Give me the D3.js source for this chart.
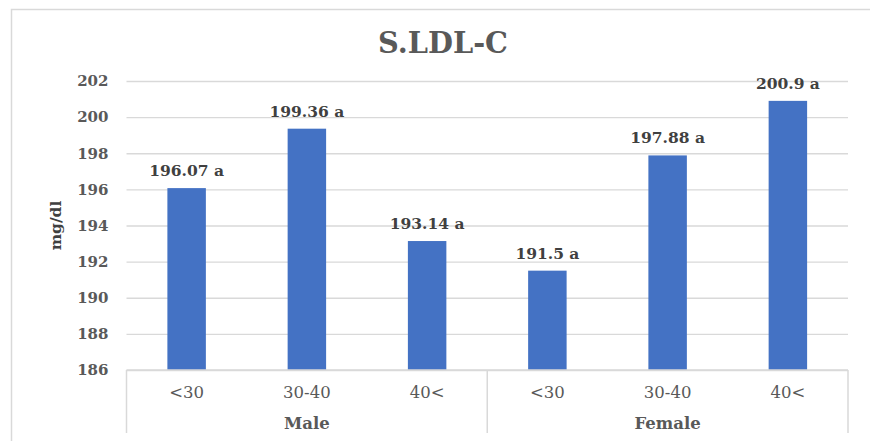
<!DOCTYPE html>
<html>
<head>
<meta charset="utf-8">
<script src="https://cdn.jsdelivr.net/npm/d3@7/dist/d3.min.js"></script>
<style>
  html, body { margin: 0; padding: 0; background: #fff; }
  svg { display: block; }
</style>
</head>
<body>
<svg id="chart" width="870" height="441"></svg>
<script>
// Age bands within each sex group
const groups = ["Male", "Female"];
const ageBands = ["<30", "30-40", "40<"];
// Mean serum LDL-C (mg/dl) in order: Male <30, 30-40, 40<, Female <30, 30-40, 40<
const values = [196.07, 199.36, 193.14, 191.5, 197.88, 200.9];
const letters = ["a", "a", "a", "a", "a", "a"];
const yTicks = [186, 188, 190, 192, 194, 196, 198, 200, 202];

const FONT = "'DejaVu Serif', 'Liberation Serif', serif";
const svg = d3.select("#chart").attr("font-family", FONT);
const W = 870, H = 441;
const margin = { left: 126.5, right: 22, top: 81, bottom: 71 };
const plotW = W - margin.left - margin.right;
const plotH = H - margin.top - margin.bottom;

// one slot per (group, age band) bar
const slots = [];
groups.forEach(g => ageBands.forEach(a => slots.push(g + "|" + a)));

const x = d3.scaleBand().domain(slots).range([margin.left, margin.left + plotW]).paddingInner(0.68).paddingOuter(0.34);
const y = d3.scaleLinear().domain([186, 202]).range([margin.top + plotH, margin.top]);

const grey = "#d9d9d9";

// outer chart frame
svg.append("rect")
  .attr("x", 11.5).attr("y", 9.5).attr("width", 880).attr("height", 460)
  .attr("fill", "#fff").attr("stroke", grey).attr("stroke-width", 1.5);

// title
svg.append("text")
  .attr("x", 443).attr("y", 53)
  .attr("text-anchor", "middle")
  .attr("font-family", FONT)
  .attr("font-size", 29).attr("font-weight", "bold").attr("fill", "#595959")
  .attr("textLength", 130).attr("lengthAdjust", "spacingAndGlyphs")
  .text("S.LDL-C");

// horizontal gridlines with y axis labels
const yAxis = d3.axisLeft(y).tickValues(yTicks).tickSize(-plotW).tickPadding(18).tickFormat(d3.format("d"));
const gy = svg.append("g").attr("transform", `translate(${margin.left},0)`).call(yAxis);
gy.attr("font-family", FONT);
gy.select(".domain").remove();
gy.selectAll(".tick line").attr("stroke", grey).attr("stroke-width", 1.3);
gy.selectAll(".tick text")
  .attr("font-family", FONT)
  .attr("font-size", 15).attr("font-weight", "bold").attr("fill", "#595959");

// y axis title
svg.append("text")
  .attr("transform", `translate(61, ${y(194)}) rotate(-90)`)
  .attr("text-anchor", "middle")
  .attr("font-family", FONT)
  .attr("font-size", 15.5).attr("font-weight", "bold").attr("fill", "#404040")
  .text("mg/dl");

// bars
svg.append("g").selectAll("rect").data(values).join("rect")
  .attr("x", (d, i) => x(slots[i]))
  .attr("width", x.bandwidth())
  .attr("y", d => y(d))
  .attr("height", d => y(186) - y(d))
  .attr("fill", "#4472c4");

// value labels with significance letters
svg.append("g").selectAll("text").data(values).join("text")
  .attr("x", (d, i) => x(slots[i]) + x.bandwidth() / 2)
  .attr("y", d => y(d) - 12)
  .attr("text-anchor", "middle")
  .attr("font-family", FONT)
  .attr("font-size", 15.5).attr("font-weight", "bold").attr("fill", "#404040")
  .text((d, i) => d + " " + letters[i]);

// category axis: baseline, group dividers and labels
const axisY = y(186);
const axisBottom = 433;
const ax = svg.append("g");
ax.append("line")
  .attr("x1", margin.left).attr("x2", margin.left + plotW)
  .attr("y1", axisY).attr("y2", axisY)
  .attr("stroke", grey).attr("stroke-width", 1.5);
const groupEdges = [margin.left, margin.left + plotW / 2, margin.left + plotW];
ax.selectAll("line.div").data(groupEdges).join("line")
  .attr("class", "div")
  .attr("x1", d => d).attr("x2", d => d)
  .attr("y1", axisY).attr("y2", axisBottom)
  .attr("stroke", grey).attr("stroke-width", 1.5);

ax.selectAll("text.age").data(slots).join("text")
  .attr("class", "age")
  .attr("x", d => x(d) + x.bandwidth() / 2)
  .attr("y", 398)
  .attr("text-anchor", "middle")
  .attr("font-family", FONT)
  .attr("font-size", 16.5).attr("fill", "#595959")
  .text(d => d.split("|")[1]);

ax.selectAll("text.grp").data(groups).join("text")
  .attr("class", "grp")
  .attr("x", (d, i) => (groupEdges[i] + groupEdges[i + 1]) / 2)
  .attr("y", 429)
  .attr("text-anchor", "middle")
  .attr("font-family", FONT)
  .attr("font-size", 16.5).attr("font-weight", "bold").attr("fill", "#595959")
  .text(d => d);
</script>
</body>
</html>
